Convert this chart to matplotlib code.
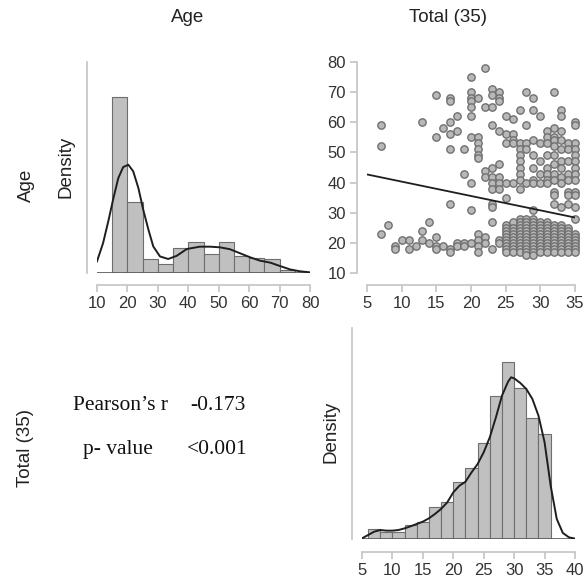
import matplotlib
matplotlib.use("Agg")

import numpy as np
from matplotlib import pyplot as plt

# Age histogram (density), bins of width 5 starting at 15
age_bin_left = [15, 20, 25, 30, 35, 40, 45, 50, 55, 60, 65, 70]
age_density = [0.0829, 0.0333, 0.0067, 0.0042, 0.0117, 0.0146,
               0.0091, 0.0146, 0.0078, 0.0070, 0.0067, 0.0013]
age_kde_x = [10, 12, 13.7, 15.4, 17, 18.6, 20.3, 21.9, 23.6, 25.2, 26.9,
             28.5, 30.7, 33.4, 36.2, 39.5, 43.8, 47.1, 50.4, 53.7, 57,
             60.3, 63.6, 66.9, 70.1, 73.4, 76.7, 80]
age_kde_y = [0.0055, 0.0141, 0.0243, 0.0353, 0.0447, 0.0499, 0.0510,
             0.0479, 0.0400, 0.0298, 0.0204, 0.0125, 0.0078, 0.0066,
             0.0081, 0.0113, 0.0124, 0.0124, 0.0121, 0.0112, 0.0093,
             0.0074, 0.0058, 0.0049, 0.0033, 0.0017, 0.0008, 0.0003]

# Total (35) histogram (density), bins of width 2 starting at 6
total_bin_left = [6, 8, 10, 12, 14, 16, 18, 20, 22, 24, 26, 28, 30, 32, 34]
total_density = [0.0048, 0.0034, 0.0034, 0.0069, 0.0080, 0.0153, 0.0177,
                 0.0271, 0.0340, 0.0459, 0.0683, 0.0847, 0.0723, 0.0579,
                 0.0504]
total_kde_x = [5, 6, 7, 8, 9, 10, 11, 12, 13, 14, 15, 16, 17, 18, 19, 20,
               21, 22, 23, 24, 25, 26, 27, 28, 29, 29.5, 30, 31, 32, 33,
               34, 35, 36, 37, 38, 39, 40]
total_kde_y = [0.0003, 0.0019, 0.0035, 0.0043, 0.0040, 0.0040, 0.0043,
               0.0051, 0.0061, 0.0072, 0.0083, 0.0099, 0.0120, 0.0144,
               0.0175, 0.0223, 0.0255, 0.0274, 0.0319, 0.0359, 0.0415,
               0.0487, 0.0582, 0.0686, 0.0753, 0.0774, 0.0769, 0.0747,
               0.0718, 0.0670, 0.0590, 0.0463, 0.0255, 0.0096, 0.0029,
               0.0008, 0.0002]

# scatter: ages observed at each Total (35) score
scatter_totals = [7, 8, 9, 10, 11, 12, 13, 14, 15, 16, 17, 18, 19, 20, 21,
                  22, 23, 24, 25, 26, 27, 28, 29, 30, 31, 32, 33, 34, 35]
scatter_ages = [
    [59, 52, 23],
    [26],
    [19, 18],
    [21],
    [21, 18],
    [19],
    [60, 24, 21],
    [27, 20],
    [69, 55, 22, 19, 18],
    [58, 19],
    [68, 67, 60, 56, 51, 33, 18, 17],
    [62, 57, 20, 19],
    [51, 43, 20, 19],
    [75, 70, 68, 67, 65, 62, 55, 40, 31, 20],
    [68, 55, 53, 51, 49, 48, 23, 21, 19, 17],
    [78, 65, 44, 42, 22, 20],
    [71, 69, 65, 59, 45, 42, 40, 38, 33, 32, 27, 18],
    [70, 68, 67, 57, 46, 42, 40, 38, 21, 20],
    [62, 56, 53, 40, 35, 26, 25, 24, 23, 22, 21, 20, 19, 18, 17],
    [61, 56, 54, 53, 40, 27, 25, 24, 23, 22, 21, 20, 19, 18, 17],
    [64, 53, 51, 49, 47, 45, 43, 41, 38, 28, 27, 26, 25, 24, 23, 22, 21,
     20, 19, 18, 17],
    [70, 59, 53, 51, 40, 28, 27, 26, 25, 24, 23, 22, 21, 20, 19, 18, 17, 16],
    [68, 64, 54, 49, 45, 41, 40, 31, 28, 27, 26, 25, 24, 23, 22, 21, 20,
     19, 18, 17, 16],
    [62, 53, 47, 43, 40, 27, 26, 25, 24, 23, 22, 21, 20, 19, 18, 17],
    [57, 55, 53, 49, 45, 43, 41, 40, 27, 26, 25, 24, 23, 22, 21, 20, 19,
     18, 17],
    [70, 58, 55, 54, 52, 49, 46, 43, 41, 37, 36, 33, 26, 25, 24, 23, 22,
     21, 20, 19, 18, 17],
    [64, 62, 57, 54, 51, 47, 45, 42, 40, 32, 26, 25, 24, 23, 22, 21, 20,
     19, 18, 17],
    [53, 51, 47, 43, 41, 37, 36, 33, 25, 24, 23, 22, 21, 20, 19, 18, 17],
    [60, 59, 53, 51, 49, 47, 45, 43, 41, 37, 36, 32, 28, 23, 22, 21, 20,
     19, 18, 17],
]
fit_x = [5, 35]
fit_y = [42.7, 28.4]

pearson_r = "-0.173"
p_value = "<0.001"

W, H = 585, 582
SPINE = "#c4c4c4"
TEXT = "#333333"
BAR_FACE = "#c0c0c0"
BAR_EDGE = "#6e6e6e"
LINE = "#1e1e1e"

plt.rcParams["font.family"] = ["Liberation Sans", "DejaVu Sans"]

fig = plt.figure(figsize=(W / 100, H / 100), dpi=100)


def px_axes(x0, y0, x1, y1):
    return fig.add_axes([x0 / W, 1 - y1 / H, (x1 - x0) / W, (y1 - y0) / H])


def style(ax, left_ticks=False, bottom_out=12):
    ax.spines[["top", "right"]].set_visible(False)
    for side, off in (("left", 7.2), ("bottom", bottom_out * 0.72)):
        ax.spines[side].set_position(("outward", off))
        ax.spines[side].set_color(SPINE)
        ax.spines[side].set_linewidth(1.2)
    ax.tick_params(colors=SPINE, labelcolor=TEXT, labelsize=12,
                   length=5, width=1.2, pad=3)
    if not left_ticks:
        ax.set_yticks([])
    ax.set_facecolor("none")


# --- top left: Age histogram
ax1 = px_axes(97, 62, 310, 273)
ax1.bar(age_bin_left, age_density, width=5, align="edge",
        color=BAR_FACE, edgecolor=BAR_EDGE, linewidth=0.8, zorder=2)
ax1.axhline(0, color="#555555", linewidth=1.2, zorder=3)
ax1.plot(age_kde_x, age_kde_y, color=LINE, linewidth=1.4, zorder=4,
         solid_joinstyle="round")
ax1.set_xlim(10, 80)
ax1.set_ylim(0, 0.0994)
ax1.set_xticks(np.arange(10, 81, 10))
style(ax1)
ax1.spines["bottom"].set_bounds(10, 80)

# --- top right: scatter Total vs Age
ax2 = px_axes(367, 62, 575, 273)
pts_x, pts_y = [], []
for t, ages in zip(scatter_totals, scatter_ages):
    pts_x += [t] * len(ages)
    pts_y += ages
ax2.scatter(pts_x, pts_y, s=28, facecolor="#b8b8b8", edgecolor="#707070",
            linewidths=1.0, zorder=2, clip_on=False)
ax2.plot(fit_x, fit_y, color=LINE, linewidth=1.3, zorder=3)
ax2.set_xlim(5, 35)
ax2.set_ylim(10, 80)
ax2.set_xticks(np.arange(5, 36, 5))
ax2.set_yticks(np.arange(10, 81, 10))
style(ax2, left_ticks=True)

# --- bottom right: Total histogram
ax3 = px_axes(362, 328, 575, 539)
ax3.bar(total_bin_left, total_density, width=2, align="edge",
        color=BAR_FACE, edgecolor=BAR_EDGE, linewidth=0.8, zorder=2)
ax3.axhline(0, color="#555555", linewidth=1.2, zorder=3)
ax3.plot(total_kde_x, total_kde_y, color=LINE, linewidth=1.4, zorder=4,
         solid_joinstyle="round")
ax3.set_xlim(5, 40)
ax3.set_ylim(0, 0.101)
ax3.set_xticks(np.arange(5, 41, 5))
style(ax3, bottom_out=13)

# --- labels
lab = dict(fontsize=13.5, color="#222222")
fig.text(188 / W, 1 - 17 / H, "Age", ha="center", va="center", **lab)
fig.text(448 / W, 1 - 17 / H, "Total (35)", ha="center", va="center", **lab)
fig.text(26 / W, 1 - 202 / H, "Age", rotation=90, ha="center",
         va="bottom", **lab)
fig.text(66 / W, 1 - 167 / H, "Density", rotation=90, ha="center",
         va="center", **lab)
fig.text(25 / W, 1 - 448 / H, "Total (35)", rotation=90, ha="center",
         va="center", **lab)
fig.text(331 / W, 1 - 432 / H, "Density", rotation=90, ha="center",
         va="center", **lab)

serif = dict(fontsize=15.5, family="Liberation Serif", color="#111111",
             va="baseline")
fig.text(73 / W, 1 - 410 / H, "Pearson\u2019s r", ha="left", **serif)
fig.text(190 / W, 1 - 410 / H, pearson_r, ha="left", **serif)
fig.text(83 / W, 1 - 454 / H, "p- value", ha="left", **serif)
fig.text(187 / W, 1 - 454 / H, p_value, ha="left", **serif)

fig.savefig("out.png", dpi=100)
